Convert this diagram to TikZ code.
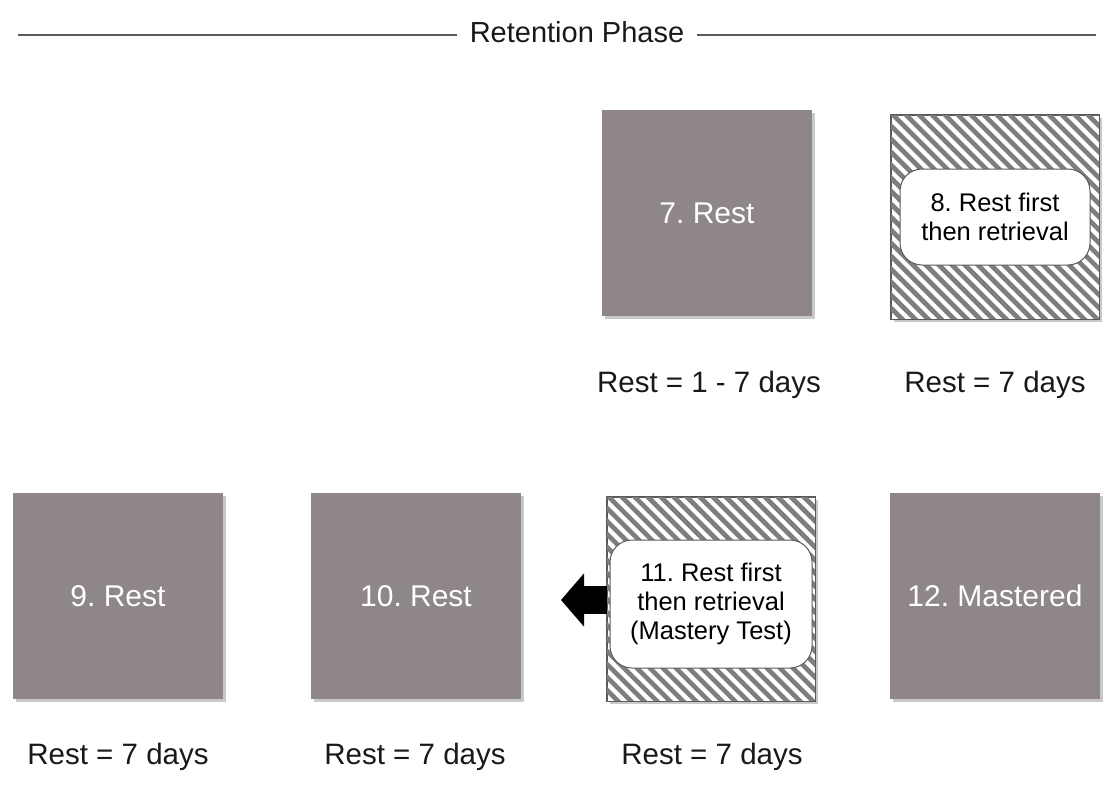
\documentclass[tikz,border=0pt]{standalone}
\usepackage{fontspec}
\setmainfont{Liberation Sans}
\usetikzlibrary{arrows.meta,shadows,calc}
\definecolor{boxgray}{HTML}{8F8787}
\definecolor{stripegray}{HTML}{7E7E7E}
\definecolor{edgegray}{HTML}{5A5A5A}
\tikzset{
  solidbox/.style={rectangle, fill=boxgray, minimum width=210pt, minimum height=206pt,
    inner sep=0pt, text=white, font=\fontsize{30}{36}\selectfont,
    drop shadow={shadow xshift=3pt, shadow yshift=-3pt, opacity=0.35, fill=black!60}},
  stripebox/.style={rectangle, draw=edgegray, line width=1pt, fill=white,
    minimum width=208pt, minimum height=204pt, inner sep=0pt,
    drop shadow={shadow xshift=3pt, shadow yshift=-3pt, opacity=0.35, fill=black!60}},
  innerbox/.style={rectangle, rounded corners=22pt, draw=edgegray, line width=1pt, fill=white,
    inner sep=0pt, align=center, font=\fontsize{25.5}{29}\selectfont},
  restlabel/.style={font=\fontsize{29.5}{34}\selectfont, text=black!90},
  titletext/.style={font=\fontsize{29}{34}\selectfont, text=black!90, inner sep=13pt},
  rule/.style={draw=edgegray, line width=1.6pt},
  blockarrow/.style={-{Triangle[length=23pt,width=52pt]}, line width=28pt, draw=black},
}
% diagonal hatching (running down to the right) inside a named box
\newcommand\hatchbox[1]{%
  \begin{scope}
    \clip (#1.south west) rectangle (#1.north east);
    \foreach \k in {-260,-247,...,260}{
      \draw[stripegray, line width=4.6pt]
        ($(#1.center)+(\k-130,-130)$) -- ($(#1.center)+(\k+130,130)$);
    }
  \end{scope}
  \draw[edgegray, line width=1pt] (#1.south west) rectangle (#1.north east);
}
\begin{document}
\frenchspacing
\begin{tikzpicture}[x=1pt,y=-1pt]
  \useasboundingbox (0,0) rectangle (1112,788);
  \fill[white] (0,0) rectangle (1112,788);

  % header
  \node[titletext] (title) at (577,32) {Retention Phase};
  \coordinate (ruleL) at (18,35);
  \coordinate (ruleR) at (1096,35);
  \draw[rule] (ruleL) -- (title.west |- ruleL);
  \draw[rule] (title.east |- ruleR) -- (ruleR);

  % top row
  \node[solidbox] (b7) at (707,213) {7. Rest};
  \node[stripebox] (b8) at (995,217) {};
  \hatchbox{b8}
  \node[innerbox, minimum width=190pt, minimum height=96pt] (t8) at (b8.center) {8. Rest first\\then retrieval};

  \node[restlabel] (l7) at (709,385) {Rest = 1 - 7 days};
  \node[restlabel] (l8) at (995,385) {Rest = 7 days};

  % bottom row
  \node[solidbox] (b9) at (118,596) {9. Rest};
  \node[solidbox] (b10) at (416,596) {10. Rest};
  \node[stripebox] (b11) at (711,599) {};
  \hatchbox{b11}
  \node[innerbox, minimum width=202pt, minimum height=128pt] (t11) at ($(b11.center)+(0,5)$) {11. Rest first\\then retrieval\\(Mastery Test)};
  \node[solidbox] (b12) at (995,596) {12. Mastered};

  \coordinate (tip) at (561,600);
  \draw[blockarrow] (b11.west |- tip) -- (tip);

  \node[restlabel] (l9) at (118,757) {Rest = 7 days};
  \node[restlabel] (l10) at (415,757) {Rest = 7 days};
  \node[restlabel] (l11) at (712,757) {Rest = 7 days};
\end{tikzpicture}
\end{document}
